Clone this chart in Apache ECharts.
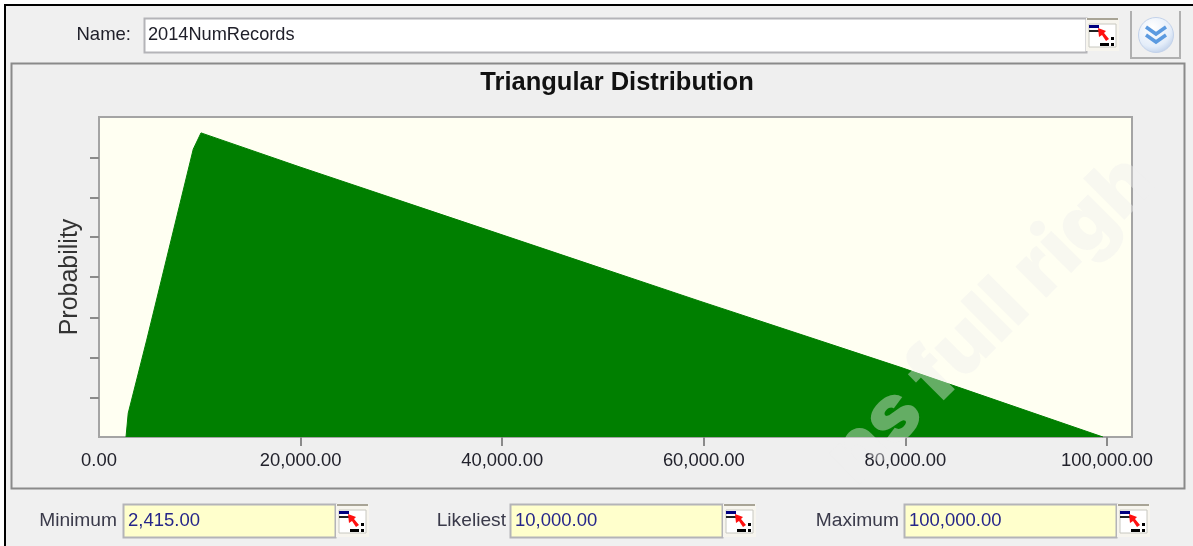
<!DOCTYPE html>
<html>
<head>
<meta charset="utf-8">
<style>html,body{margin:0;padding:0;background:#fff}#c{width:1193px;height:546px}</style>
<script src="https://cdn.jsdelivr.net/npm/echarts@6/dist/echarts.min.js"></script>
</head>
<body>
<div id="c"></div>
<script>
const titleText = 'Triangular Distribution';
const yAxisName = 'Probability';
const recordValues = [2680, 2900, 4730, 5560, 9350, 10120, 19940, 39780, 59620, 79460, 99600];
const probabilityValues = [0, 0.60, 2.44, 3.30, 7.25, 7.66, 6.80, 5.11, 3.42, 1.76, 0];
const xTickValues = [20000, 40000, 60000, 80000, 100000];
const xLabelValues = [0, 20000, 40000, 60000, 80000, 100000];
const yTicks = [1, 2, 3, 4.04, 5.04, 6.03, 7.03];
const fieldName = ['Name:', '2014NumRecords'];
const paramLabels = ['Minimum', 'Likeliest', 'Maximum'];
const paramValues = ['2,415.00', '10,000.00', '100,000.00'];
const watermark = 'ns full righ';

const FONT = '"Liberation Sans", Arial, sans-serif';
const g = [];
function rect(x, y, w, h, fill, stroke, lw, z) {
  g.push({type:'rect', silent:true, z:z===undefined?-5:z, shape:{x:x,y:y,width:w,height:h},
    style:{fill:fill||'transparent', stroke:stroke||null, lineWidth:lw||0}});
}
function text(x, y, s, col, size, align, weight) {
  g.push({type:'text', silent:true, z:5, x:x, y:y,
    style:{text:s, fill:col, font:(weight||'normal')+' '+size+'px '+FONT, align:align||'left', verticalAlign:'middle'}});
}
function icon(x, y) {
  rect(x, y, 33, 33, '#f7f5ee');
  rect(x+1, y, 31, 2, '#a8a496');
  rect(x+3, y+6, 27, 23, '#fff', '#c8c8c0', 1);
  rect(x+3, y+7, 10, 3, '#000080');
  rect(x+3, y+12, 10, 2, '#222');
  g.push({type:'polygon', silent:true, z:-4, shape:{points:[[x+12,y+10],[x+20,y+13],[x+18,y+15],[x+23,y+21],[x+20,y+23],[x+16,y+17],[x+13,y+19]]}, style:{fill:'#ff1010'}});
  rect(x+14, y+25, 9, 3, '#000', null, 0, -4);
  rect(x+25, y+19, 3, 3, '#000', null, 0, -4);
  rect(x+25, y+25, 3, 3, '#000', null, 0, -4);
}
function input(x, y, w, h, fill) {
  rect(x+0.5, y+0.5, w, h, fill, '#b4b4b8', 2);
}

// window frame
rect(5, 5, 1188, 541, '#f0f0f0', null, 0, -10);
rect(4, 4, 1189, 2, '#000', null, 0, -9);
rect(4, 4, 2, 542, '#000', null, 0, -9);
// chart panel
rect(11.5, 63.5, 1173, 425, '#efefef', '#8a8a8a', 2, -8);
// name row
text(131, 35, fieldName[0], '#20202a', 18.5, 'right');
input(144, 18, 942, 34, '#fff');
text(148, 35, fieldName[1], '#20202a', 18.2);
icon(1086, 18);
// chevron button
g.push({type:'polyline', silent:true, z:-7, shape:{points:[[1131,11],[1131,58],[1180,58],[1180,11]]}, style:{fill:null, stroke:'#b0b0b0', lineWidth:2}});
g.push({type:'circle', silent:true, z:-6, shape:{cx:1156,cy:35,r:17.5},
  style:{fill:{type:'radial',x:0.4,y:0.3,r:0.8,colorStops:[{offset:0,color:'#ffffff'},{offset:0.65,color:'#e4edf9'},{offset:1,color:'#b4c8e6'}]}, stroke:'#c3d2ea', lineWidth:1}});
[[27,34],[35,42]].forEach(function(p){
  g.push({type:'polyline', silent:true, z:-5, shape:{points:[[1146,p[0]],[1156,p[1]],[1166,p[0]]]}, style:{fill:null, stroke:'#5b9ae0', lineWidth:3.5}});
});
// parameter row
const labelRight = [117, 506, 899];
const inputLeft = [123, 510, 904];
paramLabels.forEach(function(l, i){
  text(labelRight[i], 521, l, '#3a3a4a', 19.2, 'right');
  input(inputLeft[i], 504, 212, 33, '#ffffcc');
  text(inputLeft[i]+5, 521, paramValues[i], '#26268a', 18.5);
  icon(inputLeft[i]+213, 504);
});
// watermark over everything
g.push({type:'text', silent:true, z:100, x:840, y:470, rotation:Math.PI/4,
  style:{text:watermark, fill:'rgba(238,238,238,0.42)', font:'900 80px Inter, '+FONT, align:'left', verticalAlign:'middle'}});

const chart = echarts.init(document.getElementById('c'), null, {renderer:'canvas'});
chart.setOption({
  animation:false,
  backgroundColor:'#fff',
  title:{text:titleText, left:612, top:65, textAlign:'center',
    textStyle:{fontFamily:FONT, fontWeight:'bold', fontSize:25.5, color:'#111'}},
  grid:{left:99, right:61, top:117, bottom:109, show:true, backgroundColor:'#fffff2', borderColor:'#a4a4a4', borderWidth:2},
  xAxis:{type:'value', min:0, max:102480, splitLine:{show:false},
    axisLine:{show:false},
    axisTick:{show:true, length:9, lineStyle:{color:'#8a8a8a', width:2}, customValues:xTickValues},
    axisLabel:{show:true, customValues:xLabelValues, margin:15, color:'#22222c', fontFamily:FONT, fontSize:18.4,
      showMinLabel:true, showMaxLabel:true, hideOverlap:false,
      formatter:function(v){return v.toLocaleString('en-US',{minimumFractionDigits:2,maximumFractionDigits:2});}}},
  yAxis:{type:'value', min:0, max:8.06, splitLine:{show:false},
    name:yAxisName, nameLocation:'middle', nameGap:16, nameRotate:90,
    nameTextStyle:{fontFamily:FONT, fontSize:25, color:'#333'},
    axisLine:{show:false},
    axisTick:{show:true, length:9, lineStyle:{color:'#8a8a8a', width:2}, customValues:yTicks},
    axisLabel:{show:false}},
  series:[{type:'line', data:recordValues.map(function(v,i){return [v, probabilityValues[i]];}),
    symbol:'none', smooth:false, clip:true,
    lineStyle:{color:'#007f00', width:1},
    areaStyle:{color:'#007f00', opacity:1}}],
  graphic:{elements:g}
});
</script>
</body>
</html>
